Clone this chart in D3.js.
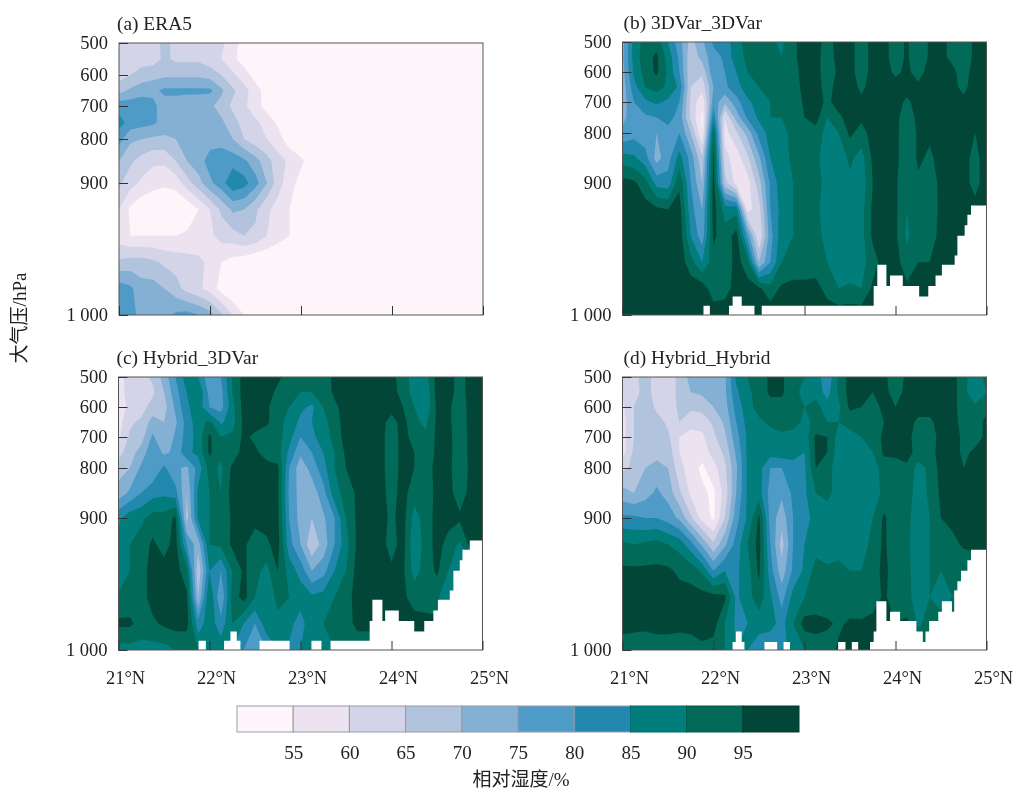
<!DOCTYPE html>
<html>
<head>
<meta charset="utf-8">
<script src="https://cdn.jsdelivr.net/npm/d3@7"></script>
<style>
  body { margin: 0; background: #fff; }
  svg { filter: blur(0.4px); }
  text { font-family: "Liberation Serif", "Noto Sans CJK SC", serif; fill: #222; }
</style>
</head>
<body>
<svg id="chart" width="1017" height="789"></svg>
<script>
// Relative humidity (%), one row per level, 33 columns from 21N to 25N
var levels = [500, 550, 600, 650, 700, 750, 800, 850, 900, 920, 940, 960, 980, 1000];
var latTicks = [21, 22, 23, 24, 25];
var pressureTicks = [500, 600, 700, 800, 900, 1000];
var thresholds = [55, 60, 65, 70, 75, 80, 85, 90, 95];
var colors = ['#fef5fa', '#ece2f0', '#d4d4e8', '#b2c3dd', '#84b0d4', '#4f9bc7', '#2388ae', '#017d7c', '#016a58', '#014636'];

var rhEra5 = [
  [62,62,62,62,67,63,63,63,63,61,57,53,50,50,50,50,50,50,50,50,50,50,50,50,50,50,50,50,50,50,50,50,50],
  [62,63,63,63,66,64,64,64,62,60,56,53,50,50,50,50,50,50,50,50,50,50,50,50,50,50,50,50,50,50,50,50,50],
  [63,65,67,68,69,69,69,69,68,65,61,57,53,50,50,50,50,50,50,50,50,50,50,50,50,50,50,50,50,50,50,50,50],
  [68,71,73,74,76,76,76,76,76,71,66,62,57,53,50,50,50,50,50,50,50,50,50,50,50,50,50,50,50,50,50,50,50],
  [78,78,78,76,73,73,72,72,71,68,64,61,57,53,50,50,50,50,50,50,50,50,50,50,50,50,50,50,50,50,50,50,50],
  [82,78,77,76,73,72,72,72,72,71,67,63,61,58,54,50,50,50,50,50,50,50,50,50,50,50,50,50,50,50,50,50,50],
  [77,71,70,69,69,70,72,73,73,73,70,65,62,60,57,52,50,50,50,50,50,50,50,50,50,50,50,50,50,50,50,50,50],
  [70,66,63,61,61,65,70,73,77,78,78,76,72,67,62,59,56,52,50,50,50,50,50,50,50,50,50,50,50,50,50,50,50],
  [66,62,59,57,56,57,63,68,74,78,84,82,77,70,62,57,53,50,50,50,50,50,50,50,50,50,50,50,50,50,50,50,50],
  [60,54,51,50,50,50,51,55,60,66,71,70,66,61,58,55,52,50,50,50,50,50,50,50,50,50,50,50,50,50,50,50,50],
  [57,55,55,55,55,55,56,57,59,62,63,65,64,60,57,55,52,50,50,50,50,50,50,50,50,50,50,50,50,50,50,50,50],
  [66,67,67,66,64,63,62,61,59,55,53,52,50,50,50,50,50,50,50,50,50,50,50,50,50,50,50,50,50,50,50,50,50],
  [78,76,72,72,70,67,63,61,58,53,50,50,50,50,50,50,50,50,50,50,50,50,50,50,50,50,50,50,50,50,50,50,50],
  [79,76,74,73,73,76,77,75,72,66,60,55,52,50,50,50,50,50,50,50,50,50,50,50,50,50,50,50,50,50,50,50,50]
];
var rh3dvar = [
  [73,87,92,93,85,77,68,74,81,82,88,92,93,91,89,94,97,97,93,97,97,92,97,97,92,96,90,96,96,94,90,97,98],
  [74,87,93,96,88,79,66,72,78,81,88,91,93,92,90,94,97,97,92,97,97,92,97,97,92,96,90,96,96,94,90,97,98],
  [73,86,92,96,89,80,66,66,79,80,85,90,92,92,90,93,97,97,92,96,97,92,97,97,94,96,93,97,97,96,93,97,98],
  [72,83,90,92,89,84,65,62,75,79,83,88,90,92,91,92,97,97,93,97,97,94,97,98,97,97,96,97,97,96,94,97,98],
  [72,80,84,86,84,80,64,56,78,71,78,84,87,90,91,91,96,97,94,97,97,96,97,98,97,94,97,97,97,97,96,97,98],
  [74,77,79,80,82,78,64,54,84,60,72,81,86,90,90,91,95,97,90,94,97,96,97,97,97,91,97,97,97,97,97,97,98],
  [76,78,77,75,78,80,70,55,92,58,64,72,82,87,89,91,92,93,88,90,96,93,97,97,97,90,96,96,97,97,97,95,98],
  [87,86,82,73,78,87,78,66,96,62,57,64,74,85,88,91,90,91,88,87,91,88,96,97,97,90,96,94,97,97,97,93,98],
  [97,96,92,83,82,94,80,70,97,67,58,58,68,81,88,90,90,92,88,86,89,87,95,96,96,90,94,91,97,97,97,93,98],
  [98,98,97,96,95,97,82,75,97,88,88,58,63,80,87,90,92,91,88,85,88,88,96,97,96,90,94,90,97,97,97,97,98],
  [98,98,98,98,98,98,85,77,96,92,97,78,60,78,88,90,92,91,89,85,87,88,96,97,96,89,94,92,97,97,97,97,98],
  [98,98,98,98,98,98,92,85,93,91,97,92,70,80,90,91,91,92,90,87,86,88,93,97,97,92,95,95,97,97,97,97,98],
  [98,98,98,98,98,98,98,98,92,93,97,97,96,92,96,97,97,97,93,90,91,90,96,96,96,96,96,96,96,96,96,96,96],
  [98,98,98,98,98,98,98,98,98,98,98,98,98,98,98,98,98,98,98,98,98,98,98,98,98,98,98,98,98,98,98,98,98]
];
var rhHybrid3dvar = [
  [58,62,63,66,72,80,88,85,76,80,90,97,97,97,96,93,92,92,93,96,97,97,97,97,97,92,88,88,97,97,93,97,97],
  [58,62,63,64,70,78,85,90,78,78,90,97,97,97,94,91,90,90,92,96,97,97,97,97,97,93,88,86,97,97,93,97,97],
  [56,62,63,67,68,76,84,88,80,78,88,97,97,96,92,90,86,84,90,94,97,97,97,97,97,95,90,86,96,96,92,97,97],
  [58,64,66,72,70,74,82,88,91,84,88,96,97,96,92,88,84,85,88,93,97,97,97,97,93,97,91,89,96,96,92,97,97],
  [59,66,68,76,70,76,82,87,96,90,91,96,94,92,92,87,80,84,87,92,97,97,97,97,92,97,93,91,96,97,91,97,97],
  [63,68,72,79,74,76,84,86,96,91,92,97,96,93,92,84,76,80,85,90,96,97,97,97,92,97,95,92,96,97,91,97,97],
  [68,70,76,76,81,76,74,82,92,89,96,97,97,97,96,80,72,77,83,90,95,97,97,97,92,97,95,92,97,97,90,97,97],
  [72,76,80,83,84,82,70,86,90,90,97,97,97,97,96,79,73,72,78,88,92,96,97,97,93,97,92,91,97,97,92,97,97],
  [84,88,89,92,92,96,68,86,90,90,96,95,97,97,96,80,73,70,74,80,90,96,97,97,94,97,88,92,97,97,96,97,97],
  [87,90,92,96,93,97,80,72,90,91,96,96,92,94,97,82,75,66,72,80,88,96,97,97,93,97,86,92,97,93,89,97,97],
  [86,90,93,97,97,97,92,66,85,80,90,96,92,88,95,88,83,75,78,85,90,97,97,97,96,96,88,92,96,90,85,85,85],
  [91,92,93,97,97,97,96,70,90,75,92,97,90,85,92,90,88,86,87,90,93,97,97,97,97,96,93,92,91,85,85,85,85],
  [96,96,93,94,96,97,97,82,88,82,90,85,80,88,88,87,82,90,90,90,92,97,97,97,97,97,97,97,97,90,90,90,90],
  [88,88,88,88,88,90,90,90,90,88,85,80,78,80,85,84,85,87,86,90,90,90,90,90,90,90,90,90,90,90,90,90,90]
];
var rhHybrid = [
  [60,63,68,62,63,66,72,74,73,74,86,90,92,96,96,91,90,88,81,91,97,97,96,97,90,97,97,97,97,97,92,86,92],
  [60,62,68,62,63,66,70,71,72,74,84,89,92,96,96,91,89,88,83,91,97,97,95,97,92,97,97,97,97,97,92,85,90],
  [59,65,68,64,62,66,66,67,70,73,82,88,92,93,93,92,90,92,87,89,96,95,92,97,95,97,97,97,97,97,92,91,94],
  [58,65,67,67,64,65,62,62,66,71,80,87,89,91,92,92,89,91,90,90,92,94,92,95,96,97,94,94,97,97,93,93,96],
  [58,65,66,67,66,60,58,59,64,69,78,86,88,88,89,88,87,96,95,88,88,90,90,97,97,97,92,92,97,97,94,93,96],
  [58,66,67,68,68,60,57,57,62,66,76,86,87,87,88,87,85,96,95,87,87,88,90,96,96,97,93,93,97,97,94,96,97],
  [64,66,70,72,70,62,57,54,58,64,74,86,87,80,80,83,84,95,93,86,86,87,88,92,93,94,88,91,97,97,95,97,98],
  [72,70,73,76,73,66,59,56,54,62,75,86,87,78,76,81,84,90,92,87,85,87,88,91,92,93,87,91,96,97,96,97,98],
  [81,81,80,80,78,74,66,58,54,65,78,86,96,78,72,80,84,86,86,86,85,86,90,96,91,92,86,90,95,97,97,97,98],
  [91,90,91,92,90,88,82,74,66,74,82,90,97,80,68,80,85,88,87,87,86,87,92,96,91,92,85,90,92,93,96,97,98],
  [96,96,96,96,96,94,93,89,80,85,84,88,96,82,72,81,86,92,91,92,90,90,92,97,91,92,86,90,90,92,90,90,90],
  [97,97,97,97,97,97,97,97,97,96,84,88,93,86,78,87,90,91,91,92,91,90,92,96,92,92,87,90,88,90,86,86,86],
  [97,97,97,97,97,97,97,97,97,90,84,85,87,87,83,90,97,97,96,94,96,96,97,97,95,96,89,92,92,92,92,92,92],
  [92,91,90,92,92,91,92,94,93,90,85,85,82,80,84,86,90,92,92,96,96,96,96,96,96,96,96,96,96,96,96,96,96]
];

// Ground below the surface, drawn as white steps: step start latitude and surface pressure
var groundLat3dvar = [21, 21.89, 21.96, 22.17, 22.21, 22.31, 22.45, 22.53, 23.76, 23.80, 23.90, 23.94, 24.08, 24.26, 24.36, 24.44, 24.51, 24.65, 24.68, 24.76, 24.79, 24.83, 25];
var groundP3dvar = [1000, 993, 1000, 993, 986, 993, 1000, 993, 978, 962, 978, 970, 978, 986, 978, 970, 962, 955, 940, 932, 924, 917, 917];
var groundLatHybrid3dvar = [21, 21.88, 21.96, 22.16, 22.23, 22.30, 22.34, 22.55, 22.88, 23.12, 23.23, 23.33, 23.76, 23.79, 23.90, 23.93, 24.08, 24.25, 24.36, 24.46, 24.51, 24.64, 24.68, 24.75, 24.78, 24.86, 25];
var groundPHybrid3dvar = [1000, 993, 1000, 993, 986, 993, 1000, 993, 1000, 993, 1000, 993, 978, 962, 978, 970, 978, 986, 978, 970, 962, 955, 940, 932, 924, 917, 917];
var groundLatHybrid = [21, 22.21, 22.245, 22.31, 22.34, 22.56, 22.70, 22.77, 22.84, 23.37, 23.45, 23.52, 23.59, 23.72, 23.76, 23.79, 23.90, 23.94, 24.05, 24.23, 24.30, 24.33, 24.37, 24.47, 24.51, 24.62, 24.645, 24.68, 24.72, 24.79, 24.83, 25];
var groundPHybrid = [1000, 994, 986, 994, 1000, 994, 1000, 994, 1000, 994, 1000, 994, 1000, 994, 986, 963, 978, 971, 978, 986, 994, 986, 978, 971, 963, 971, 955, 948, 940, 932, 924, 924];

var svg = d3.select('#chart');

// Panels, the ERA5 axis has slightly different tick spacing
var panels = [
  {id: 'a', title: '(a) ERA5', rh: rhEra5, left: 119, top: 43, width: 364, height: 272, offsets: [0, 32, 63, 96, 140, 272], labels: false, titleX: -2},
  {id: 'b', title: '(b) 3DVar_3DVar', rh: rh3dvar, left: 622.5, top: 42, width: 364, height: 273, offsets: [0, 30, 60, 91, 141, 273], labels: false, titleX: 1},
  {id: 'c', title: '(c) Hybrid_3DVar', rh: rhHybrid3dvar, left: 118.5, top: 377, width: 364, height: 273, offsets: [0, 30, 60, 91, 141, 273], labels: true, titleX: -2},
  {id: 'd', title: '(d) Hybrid_Hybrid', rh: rhHybrid, left: 622.5, top: 377, width: 364, height: 273, offsets: [0, 30, 60, 91, 141, 273], labels: true, titleX: 1}
];
panels[1].groundLat = groundLat3dvar; panels[1].groundP = groundP3dvar;
panels[2].groundLat = groundLatHybrid3dvar; panels[2].groundP = groundPHybrid3dvar;
panels[3].groundLat = groundLatHybrid; panels[3].groundP = groundPHybrid;

var nCols = rhEra5[0].length;
var nRows = levels.length;
var contours = d3.contours().size([nCols, nRows]).thresholds([0].concat(thresholds)).smooth(true);
// d3.contours puts value i at coordinate i + 0.5
var colToLat = d3.scaleLinear().domain([0.5, nCols - 0.5]).range([21, 25]);
var rowToLevel = d3.scaleLinear().domain(levels.map(function (d, i) { return i + 0.5; })).range(levels);

panels.forEach(function (p) {
  var x = d3.scaleLinear().domain([21, 25]).range([0, p.width]);
  var y = d3.scaleLinear().domain(pressureTicks).range(p.offsets);

  var g = svg.append('g').attr('transform', 'translate(' + p.left + ',' + p.top + ')');

  g.append('clipPath').attr('id', 'clip-' + p.id)
    .append('rect').attr('width', p.width).attr('height', p.height);

  var path = d3.geoPath(d3.geoTransform({
    point: function (c, r) { this.stream.point(x(colToLat(c)), y(rowToLevel(r))); }
  }));

  // Filled contours
  g.append('g').attr('clip-path', 'url(#clip-' + p.id + ')')
    .selectAll('path')
    .data(contours(p.rh.flat()))
    .enter().append('path')
    .attr('d', path)
    .attr('fill', function (d, i) { return colors[i]; });

  // Ground
  if (p.groundLat) {
    var ground = d3.area().curve(d3.curveStepAfter)
      .x(function (d) { return x(p.groundLat[d]); })
      .y0(y(1000))
      .y1(function (d) { return y(p.groundP[d]); });
    g.append('path').attr('d', ground(d3.range(p.groundLat.length))).attr('fill', '#fff');
  }

  // Frame
  g.append('rect').attr('width', p.width).attr('height', p.height)
    .attr('fill', 'none').attr('stroke', '#555').attr('stroke-width', 1);

  // Axes
  var yAxis = d3.axisLeft(y).tickValues(pressureTicks).tickSizeInner(-9).tickSizeOuter(0).tickPadding(11)
    .tickFormat(function (d) { return d === 1000 ? '1 000' : d; });
  var yG = g.append('g').call(yAxis);
  yG.select('.domain').remove();
  yG.selectAll('.tick line').attr('stroke', '#333');
  yG.selectAll('text').style('font-size', '18.5px').attr('fill', '#222');

  var xAxis = d3.axisBottom(x).tickValues(latTicks).tickSizeInner(-9).tickSizeOuter(0).tickPadding(21)
    .tickFormat(function (d) { return p.labels ? d + '°N' : ''; });
  var xG = g.append('g').attr('transform', 'translate(0,' + p.height + ')').call(xAxis);
  xG.select('.domain').remove();
  xG.selectAll('.tick line').attr('stroke', '#333');
  xG.selectAll('text').style('font-size', '18.5px').attr('dx', 6.5).attr('fill', '#222');

  // Panel title
  g.append('text').attr('x', p.titleX).attr('y', -13.5).style('font-size', '19.4px').text(p.title);
});

// Shared y label
svg.append('text')
  .attr('transform', 'translate(26,318) rotate(-90)')
  .attr('text-anchor', 'middle')
  .style('font-size', '19px')
  .text('大气压/hPa');

// Colour bar
var barX = d3.scaleLinear().domain([50, 100]).range([237, 799]);
var barEdges = [50].concat(thresholds);
svg.append('g').selectAll('rect')
  .data(barEdges)
  .enter().append('rect')
  .attr('x', function (d) { return barX(d); })
  .attr('y', 706)
  .attr('width', function (d) { return barX(d + 5) - barX(d); })
  .attr('height', 26)
  .attr('fill', function (d, i) { return colors[i]; })
  .attr('stroke', function (d, i) { return i < 7 ? '#9a9aaa' : d3.color(colors[i]).darker(0.4); })
  .attr('stroke-width', 1);

var barAxis = d3.axisBottom(barX).tickValues(thresholds).tickSize(0).tickPadding(14);
var barG = svg.append('g').attr('transform', 'translate(0,732)').call(barAxis);
barG.select('.domain').remove();
barG.selectAll('text').style('font-size', '19px').attr('fill', '#222');

svg.append('text')
  .attr('x', 521).attr('y', 786)
  .attr('text-anchor', 'middle')
  .style('font-size', '19px')
  .text('相对湿度/%');
</script>
</body>
</html>
